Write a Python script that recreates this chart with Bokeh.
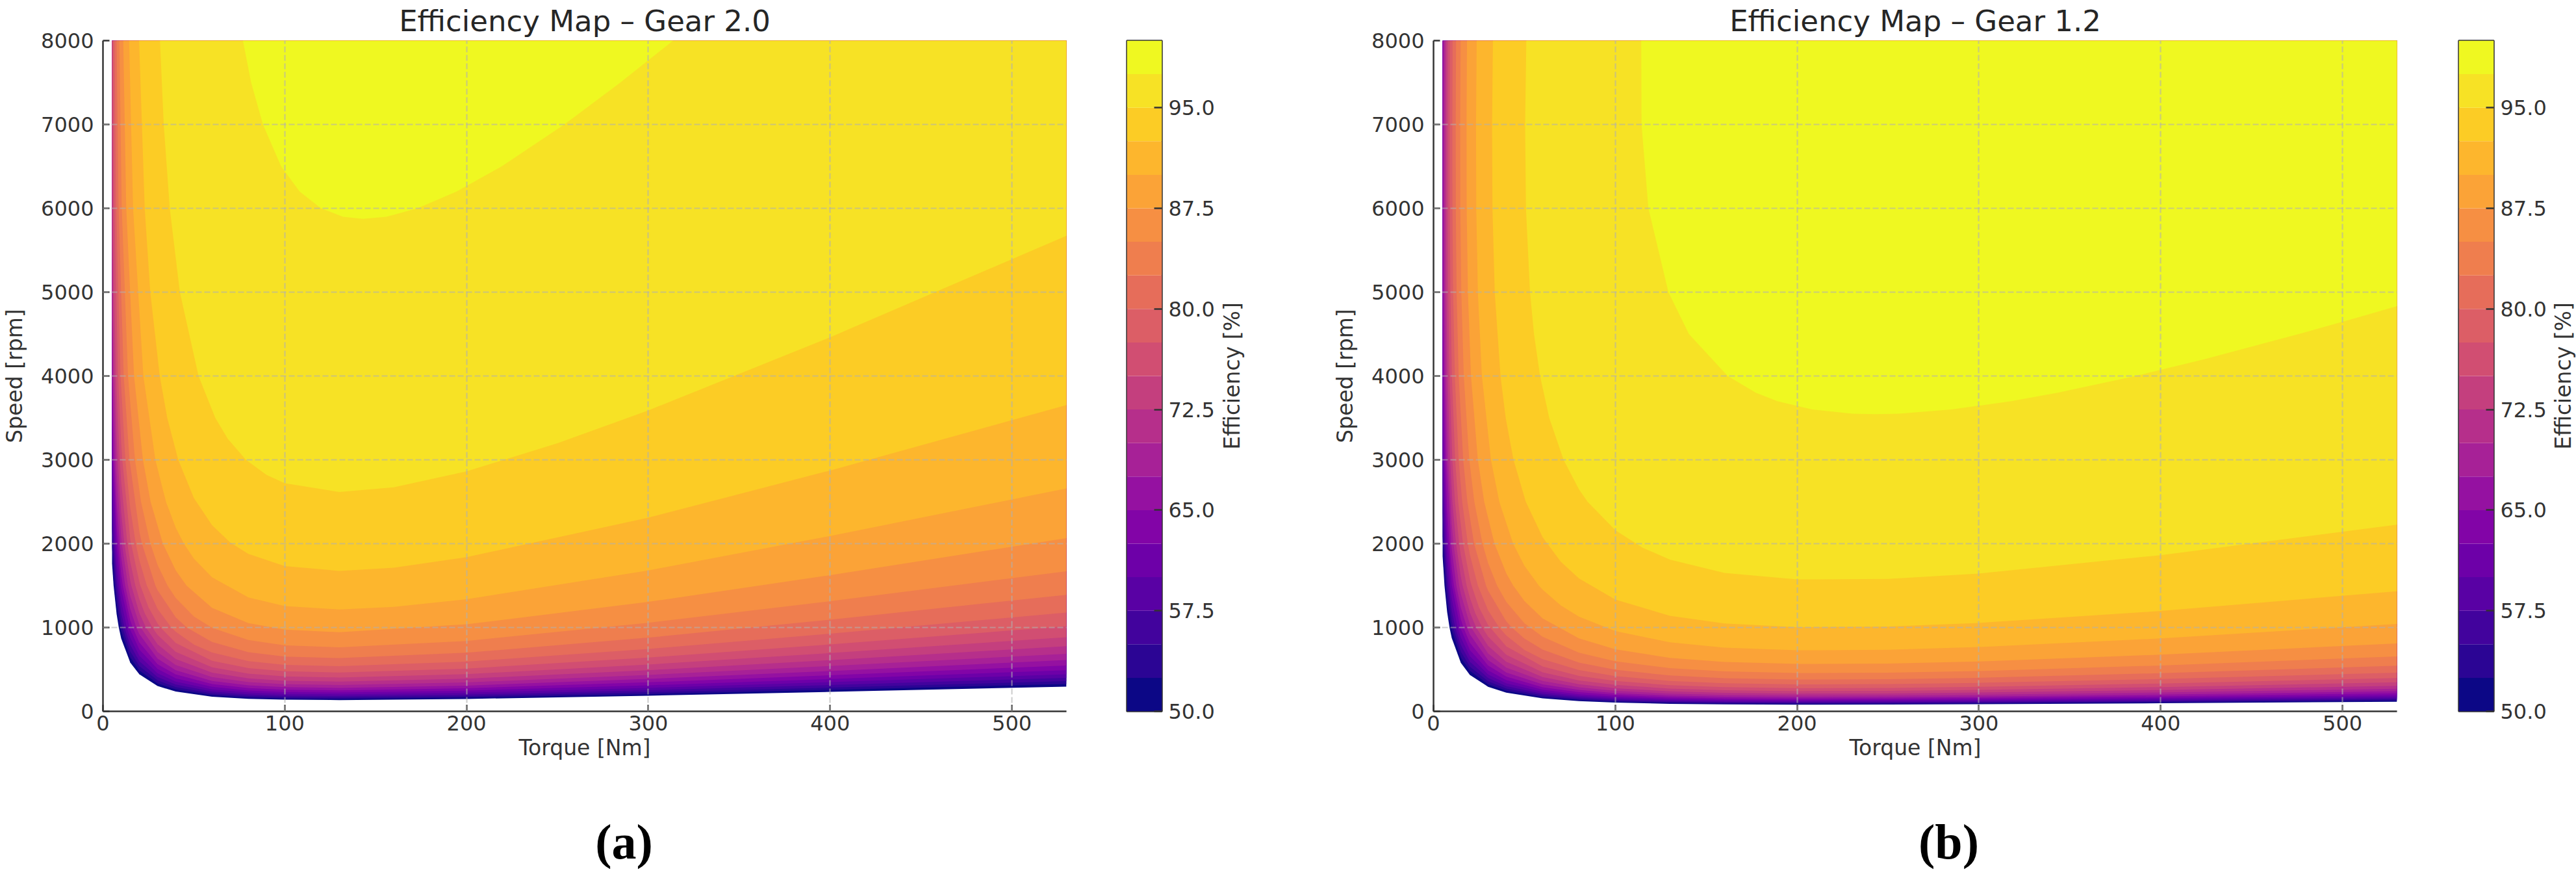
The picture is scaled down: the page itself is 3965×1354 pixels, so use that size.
import math
from bokeh.plotting import figure
from bokeh.layouts import row, column
from bokeh.models import FixedTicker, NumeralTickFormatter, Range1d
from bokeh.palettes import Plasma256
from bokeh.core.properties import value
from bokeh.embed import file_html
from bokeh.resources import INLINE

# ---------------------------------------------------------------- data
levels = [50.0, 52.5, 55.0, 57.5, 60.0, 62.5, 65.0, 67.5, 70.0, 72.5, 75.0,
          77.5, 80.0, 82.5, 85.0, 87.5, 90.0, 92.5, 95.0, 97.5, 100.0]
colorbar_ticks = [50.0, 57.5, 65.0, 72.5, 80.0, 87.5, 95.0]
torque_ticks = [0, 100, 200, 300, 400, 500]
speed_ticks = [0, 1000, 2000, 3000, 4000, 5000, 6000, 7000, 8000]
torque_limits = [0, 530]
speed_limits = [0, 8000]
panel_titles = ["Efficiency Map \u2013 Gear 2.0", "Efficiency Map \u2013 Gear 1.2"]
panel_labels = ["(a)", "(b)"]
colorbar_title = "Efficiency [%]"

# Boundary of the region "efficiency >= level" (one path per level).
# Gear 2.0: torque [Nm] / speed [rpm]
gear20_torque = [
    [5, 5.84, 7.5, 8.7, 10, 15, 20, 30, 40, 60, 80, 100, 130, 200, 300, 400, 530],
    [5, 6.46, 7.5, 9.62, 10, 15, 20, 30, 40, 60, 80, 100, 130, 200, 300, 400, 530],
    [5, 5.42, 7.14, 7.5, 10, 10.66, 15, 20, 30, 40, 60, 80, 100, 130, 200, 300, 400, 530],
    [5, 6.0, 7.5, 7.91, 10, 11.81, 15, 20, 30, 40, 60, 80, 100, 130, 200, 300, 400, 530],
    [5, 6.66, 7.5, 8.78, 10, 13.12, 15, 20, 30, 40, 60, 80, 100, 130, 200, 300, 400, 530],
    [5, 5.1, 7.4, 7.5, 9.77, 10, 14.62, 15, 20, 30, 40, 60, 80, 100, 130, 200, 300, 400, 530],
    [5, 5.69, 7.5, 8.25, 10, 10.9, 15, 16.34, 20, 30, 40, 60, 80, 100, 130, 200, 300, 400, 530],
    [5, 6.36, 7.5, 9.24, 10, 12.21, 15, 18.35, 20, 30, 40, 60, 80, 100, 130, 200, 300, 400, 530],
    [5, 5.62, 7.15, 7.5, 10, 10.39, 13.75, 15, 20, 20.73, 30, 40, 60, 80, 100, 130, 200, 300, 400, 530],
    [5, 5.38, 6.35, 7.5, 8.09, 10, 11.76, 15, 15.58, 20, 23.6, 30, 40, 60, 80, 100, 130, 200, 300, 400, 530],
    [5, 5.46, 6.13, 7.23, 7.5, 9.21, 10, 13.42, 15, 17.81, 20, 23, 27.13, 30, 40, 60, 80, 100, 130, 200, 300, 400, 530],
    [5.47, 6.27, 8.31, 10, 10.6, 15, 15.46, 20, 20.58, 25, 30, 31.63, 40, 60, 80, 100, 130, 200, 300, 400, 530],
    [6.35, 7.28, 9.67, 12.33, 15, 18.04, 20, 24.12, 30, 37.6, 40, 50, 60, 80, 100, 130, 200, 300, 400, 530],
    [7.49, 8.59, 11.41, 14.59, 20, 21.43, 28.84, 30, 40, 46.07, 60, 80, 100, 130, 200, 300, 400, 530],
    [9.01, 10.34, 13.76, 17.63, 20.92, 26.09, 30, 35.52, 40, 50, 60, 80, 100, 130, 200, 300, 400, 530],
    [11.16, 12.81, 17.1, 21.99, 26.19, 32.97, 40, 45.96, 60, 80, 100, 130, 200, 300, 400, 530],
    [14.39, 16.56, 22.22, 28.82, 34.65, 40, 44.51, 50, 60, 80, 100, 130, 160, 200, 300, 400, 530],
    [19.87, 22.96, 26.02, 31.23, 35.35, 41.4, 50, 60, 70, 80, 100, 130, 160, 200, 300, 400, 530],
    [31.35, 33.42, 36.74, 42.3, 52.57, 61.79, 68.67, 78.64, 90, 100, 130, 160, 200, 250, 300, 400, 530],
    [77.0, 81.5, 88.0, 98.0, 108.2, 119.9, 132.0, 143.0, 156.0, 173.0, 194.5, 219.3, 253.8, 284.6, 313.6],
]
gear20_speed = [
    [1761, 1500, 1161, 1000, 870, 582, 441, 302, 236, 175, 150, 139, 134, 148, 186, 232, 295],
    [1957, 1500, 1286, 1000, 962, 644, 487, 334, 261, 193, 165, 153, 149, 164, 206, 256, 326],
    [2178, 2000, 1500, 1426, 1066, 1000, 713, 539, 370, 288, 214, 183, 169, 164, 181, 228, 283, 360],
    [2431, 2000, 1584, 1500, 1182, 1000, 790, 597, 409, 319, 237, 202, 187, 182, 200, 252, 313, 399],
    [2725, 2000, 1764, 1500, 1314, 1000, 876, 662, 454, 355, 262, 224, 208, 202, 222, 279, 348, 442],
    [3070, 3000, 2000, 1971, 1500, 1464, 1000, 975, 737, 505, 394, 292, 249, 231, 224, 247, 310, 386, 491],
    [3486, 3000, 2213, 2000, 1638, 1500, 1083, 1000, 822, 562, 439, 325, 278, 257, 250, 275, 346, 430, 547],
    [4001, 3000, 2498, 2000, 1841, 1500, 1220, 1000, 920, 629, 491, 363, 311, 288, 279, 307, 387, 481, 612],
    [4667, 4000, 3000, 2843, 2082, 2000, 1500, 1374, 1035, 1000, 708, 552, 408, 349, 323, 314, 345, 435, 540, 687],
    [5593, 5000, 4000, 3271, 3000, 2375, 2000, 1559, 1500, 1172, 1000, 800, 624, 461, 394, 365, 355, 390, 491, 611, 777],
    [7095, 6000, 5000, 4000, 3822, 3000, 2738, 2000, 1783, 1500, 1338, 1169, 1000, 912, 710, 525, 449, 416, 404, 444, 559, 695, 884],
    [8000, 6000, 4000, 3205, 3000, 2054, 2000, 1543, 1500, 1243, 1049, 1000, 816, 603, 515, 478, 463, 510, 642, 798, 1015],
    [8000, 6000, 4000, 3000, 2424, 2000, 1802, 1500, 1222, 1000, 949, 796, 701, 599, 555, 538, 593, 745, 927, 1179],
    [8000, 6000, 4000, 3000, 2145, 2000, 1500, 1446, 1122, 1000, 828, 706, 654, 635, 699, 879, 1093, 1390],
    [8000, 6000, 4000, 3000, 2500, 2000, 1749, 1500, 1353, 1132, 997, 850, 787, 763, 840, 1057, 1314, 1671],
    [8000, 6000, 4000, 3000, 2500, 2000, 1683, 1500, 1235, 1052, 974, 944, 1038, 1306, 1624, 2066],
    [8000, 6000, 4000, 3000, 2500, 2192, 2000, 1821, 1598, 1358, 1256, 1216, 1246, 1337, 1681, 2091, 2659],
    [8000, 6000, 5000, 4000, 3500, 3000, 2545, 2221, 2013, 1877, 1732, 1675, 1714, 1839, 2310, 2873, 3653],
    [8000, 7000, 6000, 5000, 4000, 3500, 3250, 3000, 2820, 2721, 2617, 2672, 2862, 3198, 3590, 4462, 5672],
    [8000, 7500, 7000, 6500, 6200, 6000, 5900, 5875, 5900, 6000, 6200, 6500, 7000, 7500, 8000],
]

# Gear 1.2: torque [Nm] / speed [rpm]
gear12_torque = [
    [5, 6.03, 7.5, 8.8, 10, 15, 20, 30, 40, 60, 80, 100, 130, 160, 200, 250, 300, 400, 530],
    [5, 5.18, 6.66, 7.5, 9.73, 10, 15, 20, 30, 40, 60, 80, 100, 130, 160, 200, 250, 300, 400, 530],
    [5, 5.73, 7.37, 7.5, 10, 10.77, 15, 20, 30, 40, 60, 80, 100, 130, 160, 200, 250, 300, 400, 530],
    [5, 5.31, 6.34, 7.5, 8.16, 10, 11.93, 15, 20, 30, 40, 60, 80, 100, 130, 160, 200, 250, 300, 400, 530],
    [5, 5.17, 5.89, 7.03, 7.5, 9.05, 10, 13.23, 15, 20, 30, 40, 60, 80, 100, 130, 160, 200, 250, 300, 400, 530],
    [5, 5.23, 5.75, 6.54, 7.5, 7.82, 10, 14.71, 15, 20, 30, 40, 60, 80, 100, 130, 160, 200, 250, 300, 400, 530],
    [5, 5.17, 5.43, 6.4, 7.5, 8.71, 10, 11.21, 15, 16.42, 20, 30, 40, 60, 80, 100, 130, 160, 200, 250, 300, 400, 530],
    [5.45, 5.37, 5.39, 5.58, 6.08, 7.16, 9.75, 10, 12.54, 15, 18.38, 20, 30, 40, 60, 80, 100, 130, 160, 200, 250, 300, 400, 530],
    [6.13, 6.03, 6.06, 6.27, 6.83, 8.05, 10, 10.96, 14.1, 15, 20, 20.69, 30, 40, 60, 80, 100, 130, 160, 200, 250, 300, 400, 530],
    [6.92, 6.82, 6.85, 7.09, 7.72, 9.1, 10.36, 12.39, 15, 15.96, 20, 23.44, 30, 40, 60, 80, 100, 130, 160, 200, 250, 300, 400, 530],
    [7.88, 7.76, 7.79, 8.07, 8.78, 10.36, 11.8, 14.11, 15, 18.19, 20, 23, 26.77, 30, 40, 60, 80, 100, 130, 160, 200, 250, 300, 400, 530],
    [9.05, 8.91, 8.95, 9.27, 10.09, 11.9, 13.56, 16.22, 20, 20.93, 25, 30, 40, 60, 80, 100, 130, 160, 200, 250, 300, 400, 530],
    [10.51, 10.35, 10.39, 10.77, 11.72, 13.83, 15.76, 18.87, 20, 24.38, 30, 36.13, 40, 50, 60, 80, 100, 130, 160, 200, 250, 300, 400, 530],
    [12.39, 12.2, 12.26, 12.7, 13.83, 16.32, 18.61, 22.31, 28.88, 30, 40, 43.07, 50, 60, 80, 100, 130, 160, 200, 250, 300, 400, 530],
    [14.9, 14.67, 14.74, 15.28, 16.64, 19.66, 22.44, 26.94, 30, 34.98, 40, 50, 60, 80, 100, 130, 160, 200, 250, 300, 400, 530],
    [18.42, 18.15, 18.24, 18.91, 20.6, 24.38, 27.87, 33.53, 40, 43.82, 50, 60, 80, 100, 130, 160, 200, 250, 300, 400, 530],
    [23.74, 23.39, 23.51, 24.39, 26.61, 31.58, 36.18, 43.78, 50, 57.95, 60, 70, 80, 100, 130, 160, 200, 250, 300, 400, 530],
    [32.67, 32.21, 32.41, 33.67, 36.84, 39.69, 43.99, 50.75, 60, 70, 80, 100, 130, 160, 200, 250, 300, 400, 530],
    [51.04, 50.39, 50.84, 53.07, 55.27, 58.6, 63.66, 71.54, 80, 84.73, 100, 115, 130, 160, 200, 250, 300, 400, 530],
    [114.25, 114.42, 118.2, 129.2, 140.5, 161.8, 177.3, 189.1, 208.2, 230.3, 243, 256.1, 284.9, 317.8, 343.3, 386.2, 424.0, 475.9, 508.7, 530],
]
gear12_speed = [
    [1853, 1500, 1183, 1000, 876, 580, 435, 293, 223, 155, 122, 105, 90, 84, 80, 81, 85, 96, 115],
    [2088, 2000, 1500, 1318, 1000, 972, 642, 482, 324, 246, 171, 135, 116, 100, 93, 89, 90, 94, 107, 128],
    [2367, 2000, 1500, 1471, 1080, 1000, 712, 533, 358, 272, 189, 150, 128, 111, 102, 98, 99, 104, 118, 141],
    [2712, 2500, 2000, 1647, 1500, 1203, 1000, 790, 591, 397, 301, 209, 166, 142, 122, 113, 109, 110, 115, 130, 156],
    [3160, 3000, 2500, 2000, 1854, 1500, 1344, 1000, 879, 657, 440, 334, 232, 184, 157, 136, 126, 121, 122, 127, 145, 173],
    [3798, 3500, 3000, 2500, 2103, 2000, 1509, 1000, 980, 731, 489, 372, 258, 204, 175, 151, 140, 134, 135, 141, 161, 192],
    [4974, 4500, 4000, 3000, 2409, 2000, 1704, 1500, 1098, 1000, 817, 546, 414, 287, 228, 195, 168, 156, 149, 151, 158, 179, 215],
    [8000, 7000, 6000, 5000, 4000, 3000, 2000, 1940, 1500, 1237, 1000, 916, 612, 464, 322, 255, 218, 188, 174, 167, 169, 176, 200, 240],
    [8000, 7000, 6000, 5000, 4000, 3000, 2236, 2000, 1500, 1403, 1036, 1000, 689, 522, 362, 286, 245, 211, 195, 188, 190, 198, 225, 269],
    [8000, 7000, 6000, 5000, 4000, 3000, 2500, 2000, 1606, 1500, 1178, 1000, 781, 591, 409, 323, 276, 239, 221, 212, 214, 224, 254, 304],
    [8000, 7000, 6000, 5000, 4000, 3000, 2500, 2000, 1862, 1500, 1354, 1169, 1000, 892, 674, 466, 368, 315, 272, 251, 241, 244, 255, 289, 346],
    [8000, 7000, 6000, 5000, 4000, 3000, 2500, 2000, 1576, 1500, 1241, 1030, 776, 535, 423, 362, 312, 289, 277, 280, 292, 332, 398],
    [8000, 7000, 6000, 5000, 4000, 3000, 2500, 2000, 1869, 1500, 1206, 1000, 905, 733, 623, 492, 420, 363, 335, 322, 325, 340, 386, 462],
    [8000, 7000, 6000, 5000, 4000, 3000, 2500, 2000, 1500, 1440, 1074, 1000, 868, 737, 581, 496, 428, 395, 380, 383, 400, 455, 545],
    [8000, 7000, 6000, 5000, 4000, 3000, 2500, 2000, 1770, 1500, 1307, 1051, 890, 700, 597, 515, 476, 457, 461, 481, 547, 655],
    [8000, 7000, 6000, 5000, 4000, 3000, 2500, 2000, 1648, 1500, 1316, 1109, 870, 740, 637, 589, 565, 570, 595, 676, 810],
    [8000, 7000, 6000, 5000, 4000, 3000, 2500, 2000, 1736, 1500, 1452, 1263, 1129, 958, 823, 759, 728, 734, 767, 870, 1042],
    [8000, 7000, 6000, 5000, 4000, 3500, 3000, 2500, 2077, 1784, 1585, 1334, 1139, 1048, 1004, 1011, 1055, 1197, 1433],
    [8000, 7000, 6000, 5000, 4500, 4000, 3500, 3000, 2648, 2500, 2161, 1951, 1811, 1652, 1573, 1579, 1644, 1863, 2227],
    [8000, 7000, 6000, 5000, 4500, 4000, 3800, 3700, 3600, 3550, 3545, 3550, 3600, 3700, 3800, 4000, 4200, 4500, 4700, 4834],
]

# ---------------------------------------------------------------- style / layout (pixels)
FONT = "DejaVu Sans"
INK = "#333333"
FRAME_W, FRAME_H = 1483, 1032
BORDER_TOP, BORDER_BOTTOM = 60, 110
BAR_W = 54

n_bands = len(levels) - 1
band_colors = [Plasma256[min(int(i / (n_bands - 1) * 256), 255)] for i in range(n_bands)]


def closed_region(ts, ns):
    xs, ys = list(ts), list(ns)
    if xs[-1] >= torque_limits[1]:
        xs.append(torque_limits[1])
        ys.append(speed_limits[1])
    if ys[0] < speed_limits[1]:
        xs.append(xs[0])
        ys.append(speed_limits[1])
    return xs, ys


def style_axis(ax, label=None):
    if label is not None:
        ax.axis_label = label
    ax.axis_line_color = INK
    ax.axis_line_width = 2.5
    ax.major_tick_line_color = INK
    ax.major_tick_line_width = 2.5
    ax.major_tick_in = 10
    ax.major_tick_out = 0
    ax.minor_tick_line_color = None
    ax.major_label_text_font = FONT
    ax.major_label_text_font_size = "32px"
    ax.major_label_text_color = INK
    ax.axis_label_text_font = FONT
    ax.axis_label_text_font_size = "33px"
    ax.axis_label_text_font_style = "normal"
    ax.axis_label_text_color = INK


def efficiency_map(title, torque_paths, speed_paths):
    p = figure(title=title, frame_width=FRAME_W, frame_height=FRAME_H,
               min_border_left=149, min_border_right=60,
               min_border_top=BORDER_TOP, min_border_bottom=BORDER_BOTTOM,
               x_range=Range1d(*torque_limits), y_range=Range1d(*speed_limits),
               toolbar_location=None, output_backend="svg")
    xs, ys = [], []
    for t, n in zip(torque_paths, speed_paths):
        x, y = closed_region(t, n)
        xs.append(x)
        ys.append(y)
    p.patches(xs=xs, ys=ys, fill_color=band_colors, line_color=None)

    p.outline_line_color = None
    p.background_fill_color = "white"
    p.border_fill_color = "white"

    p.title.text_font = FONT
    p.title.text_font_size = "45px"
    p.title.text_font_style = "normal"
    p.title.text_color = "#262626"
    p.title.align = "center"
    p.title.standoff = 7

    style_axis(p.xaxis[0], "Torque [Nm]")
    style_axis(p.yaxis[0], "Speed [rpm]")
    p.xaxis[0].ticker = FixedTicker(ticks=torque_ticks)
    p.yaxis[0].ticker = FixedTicker(ticks=speed_ticks)
    p.xaxis[0].major_label_standoff = 6
    p.yaxis[0].major_label_standoff = 14
    p.xaxis[0].axis_label_standoff = 4
    p.yaxis[0].axis_label_standoff = 18

    p.xgrid.ticker = FixedTicker(ticks=torque_ticks[1:])
    p.ygrid.ticker = FixedTicker(ticks=speed_ticks[1:])
    p.grid.grid_line_color = "#b0b0b0"
    p.grid.grid_line_alpha = 0.6
    p.grid.grid_line_width = 2.2
    p.grid.grid_line_dash = "9 4"
    p.grid.level = "overlay"
    return p


def colorbar(left_pad, right_pad):
    c = figure(frame_width=BAR_W, frame_height=FRAME_H,
               min_border_left=left_pad, min_border_right=right_pad,
               min_border_top=BORDER_TOP, min_border_bottom=BORDER_BOTTOM,
               x_range=Range1d(0, 1), y_range=Range1d(levels[0], levels[-1]),
               x_axis_location=None, y_axis_location="right",
               toolbar_location=None, output_backend="svg")
    c.grid.visible = False
    c.background_fill_color = "white"
    c.border_fill_color = "white"
    c.quad(left=0, right=1, bottom=levels[:-1], top=levels[1:],
           fill_color=band_colors, line_color=None)
    c.outline_line_color = INK
    c.outline_line_width = 2.5
    c.outline_line_alpha = 1.0
    ax = c.yaxis[0]
    style_axis(ax)
    ax.axis_line_color = None
    ax.ticker = FixedTicker(ticks=colorbar_ticks)
    ax.formatter = NumeralTickFormatter(format="0.0")
    ax.major_tick_in = 12
    ax.major_tick_out = 0
    ax.major_label_standoff = 10
    return c


def colorbar_label(width, anchor_x):
    t = figure(frame_width=width, frame_height=FRAME_H,
               min_border_left=0, min_border_right=0,
               min_border_top=BORDER_TOP, min_border_bottom=BORDER_BOTTOM,
               x_range=Range1d(0, width), y_range=Range1d(levels[0], levels[-1]),
               x_axis_location=None, y_axis_location=None,
               toolbar_location=None, output_backend="svg")
    t.grid.visible = False
    t.outline_line_color = None
    t.background_fill_color = "white"
    t.border_fill_color = "white"
    t.text(x=[anchor_x], y=[(levels[0] + levels[-1]) / 2], text=[colorbar_title],
           angle=math.pi / 2, text_align="center", text_baseline="middle",
           text_font=value(FONT), text_font_size="33px", text_color=INK)
    return t


map_a = efficiency_map(panel_titles[0], gear20_torque, gear20_speed)
bar_a = colorbar(33, 85)
lab_a = colorbar_label(175, 23)
map_b = efficiency_map(panel_titles[1], gear12_torque, gear12_speed)
bar_b = colorbar(35, 85)
lab_b = colorbar_label(44, 21.5)

LAB_H = 136
labels = figure(width=3949, height=LAB_H, x_range=Range1d(0, 3949), y_range=Range1d(0, LAB_H),
                min_border=0, x_axis_location=None, y_axis_location=None,
                toolbar_location=None, output_backend="svg")
labels.grid.visible = False
labels.outline_line_color = None
labels.text(x=[960, 2999], y=[46, 46], text=panel_labels,
            text_align="center", text_baseline="middle",
            text_font=value("Liberation Serif"), text_font_style="bold",
            text_font_size="76px", text_color="black")

layout = column(row(map_a, bar_a, lab_a, map_b, bar_b, lab_b), labels)
open("out.html", "w").write(file_html(layout, INLINE, "Efficiency maps"))
